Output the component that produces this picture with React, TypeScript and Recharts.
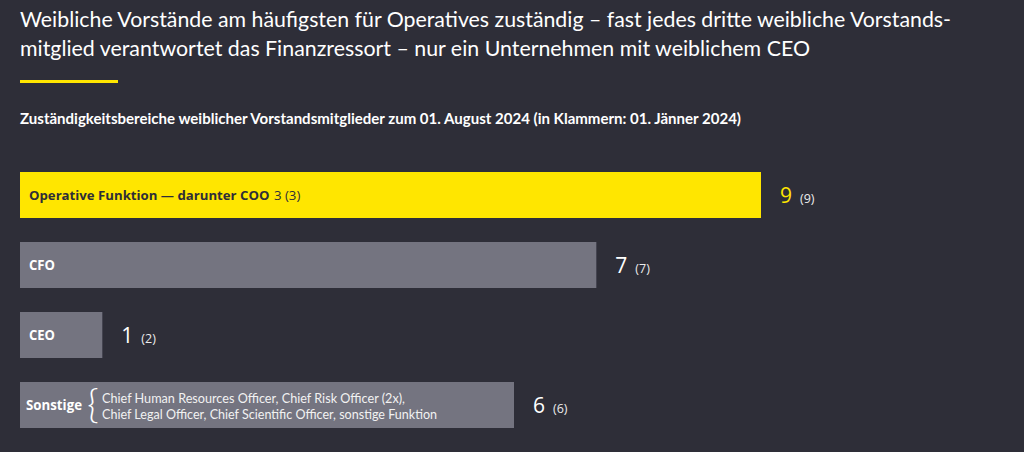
import React from "react";
import { BarChart, Bar, XAxis, YAxis } from "recharts";

const titleLines = [
  "Weibliche Vorstände am häufigsten für Operatives zuständig – fast jedes dritte weibliche Vorstands-",
  "mitglied verantwortet das Finanzressort – nur ein Unternehmen mit weiblichem CEO",
];
const subtitle =
  "Zuständigkeitsbereiche weiblicher Vorstandsmitglieder zum 01. August 2024 (in Klammern: 01. Jänner 2024)";

const categories = ["Operative Funktion", "CFO", "CEO", "Sonstige"];
const valuesAug2024 = [9, 7, 1, 6];
const valuesJan2024 = [9, 7, 2, 6];
const cooLabel = "— darunter COO";
const cooAug2024 = 3;
const cooJan2024 = 3;
const sonstigeDetails = [
  "Chief Human Resources Officer, Chief Risk Officer (2x),",
  "Chief Legal Officer, Chief Scientific Officer, sonstige Funktion",
];

const data = categories.map((name, i) => ({
  name,
  value: valuesAug2024[i],
  prev: valuesJan2024[i],
}));

const BG = "#2e2e38";
const YELLOW = "#ffe600";
const GREY = "#747480";
const FONT = "Lato, 'Open Sans', sans-serif";
const FONT2 = "'Open Sans', sans-serif";

const BarShape = (props: any) => {
  const { x, y, width, height, index, payload } = props;
  const cy = y + height / 2;
  const isFirst = index === 0;
  const fill = isFirst ? YELLOW : GREY;
  const labelColor = isFirst ? BG : "#ffffff";
  const valueColor = isFirst ? YELLOW : "#ffffff";
  const vx = x + width + 19;
  let inside: React.ReactNode = null;
  if (isFirst) {
    inside = (
      <g fill={labelColor} fontFamily={FONT2} fontSize={13.2}>
        <text x={x + 9} y={cy + 5} fontWeight={700}>
          {`${payload.name} ${cooLabel}`}
        </text>
        <text x={x + 254} y={cy + 5} fontWeight={400}>
          {`${cooAug2024} (${cooJan2024})`}
        </text>
      </g>
    );
  } else if (payload.name === "Sonstige") {
    inside = (
      <g fill="#ffffff">
        <text x={x + 6} y={cy + 5} fontSize={14} fontWeight={700} fontFamily={FONT2} textLength={56} lengthAdjust="spacingAndGlyphs">
          {payload.name}
        </text>
        <text x={x + 67} y={cy + 13} fontSize={40} fontWeight={300} fontFamily={FONT}>
          {"{"}
        </text>
        <text x={x + 82} y={cy - 2} fontSize={13} fontFamily={FONT} fill="#f2f2f2" textLength={303} lengthAdjust="spacingAndGlyphs">
          {sonstigeDetails[0]}
        </text>
        <text x={x + 82} y={cy + 14} fontSize={13} fontFamily={FONT} fill="#f2f2f2" textLength={335} lengthAdjust="spacingAndGlyphs">
          {sonstigeDetails[1]}
        </text>
      </g>
    );
  } else {
    inside = (
      <text x={x + 9} y={cy + 5} fontSize={14} fontWeight={700} fill={labelColor} fontFamily={FONT2} textLength={26} lengthAdjust="spacingAndGlyphs">
        {payload.name}
      </text>
    );
  }
  return (
    <g>
      <rect x={x} y={y} width={width} height={height} fill={fill} />
      {inside}
      <text x={vx} y={cy + 7.5} fontFamily={FONT2} fill={valueColor} fontSize={21}>
        {payload.value}
        <tspan fontSize={12.5} fill="#ececec" dx={8}>{`(${payload.prev})`}</tspan>
      </text>
    </g>
  );
};

export default function App() {
  return (
    <div style={{ position: "absolute", left: 0, top: 0, width: 1024, height: 452, background: BG, overflow: "hidden" }}>
      <svg width={1024} height={140} style={{ position: "absolute", left: 0, top: 0 }}>
        <text x={20} y={27} fontSize={21.5} fill="#ffffff" fontFamily={FONT} textLength={931} lengthAdjust="spacingAndGlyphs">
          {titleLines[0]}
        </text>
        <text x={20} y={56} fontSize={21.5} fill="#ffffff" fontFamily={FONT} textLength={790} lengthAdjust="spacingAndGlyphs">
          {titleLines[1]}
        </text>
        <rect x={20} y={80} width={98} height={3} fill={YELLOW} />
        <text x={20} y={124} fontSize={14.5} fontWeight={700} fill="#ffffff" fontFamily={FONT} textLength={721} lengthAdjust="spacingAndGlyphs">
          {subtitle}
        </text>
      </svg>
      <div style={{ position: "absolute", left: 0, top: 0 }}>
        <BarChart
          width={1024}
          height={452}
          data={data}
          layout="vertical"
          margin={{ top: 160, right: 263, bottom: 12, left: 20 }}
          barSize={46}
        >
          <XAxis type="number" domain={[0, 9]} hide />
          <YAxis type="category" dataKey="name" width={0} tick={false} tickLine={false} axisLine={{ stroke: "#5c5c68" }} />
          <Bar dataKey="value" isAnimationActive={false} shape={<BarShape />} />
        </BarChart>
      </div>
    </div>
  );
}
